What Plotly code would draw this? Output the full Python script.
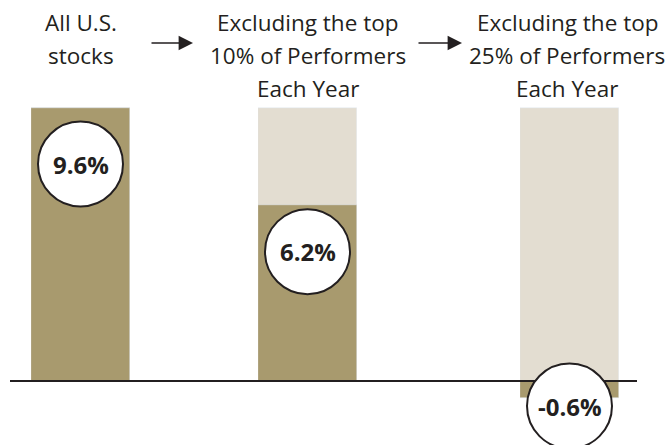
import plotly.graph_objects as go

# ---------------- data ----------------
header_lines = [
    ["All U.S.", "stocks"],
    ["Excluding the top", "10% of Performers", "Each Year"],
    ["Excluding the top", "25% of Performers", "Each Year"],
]
categories = [" ".join(h) for h in header_lines]
returns = [9.6, 6.2, -0.6]
reference = [9.6, 9.6, 9.6]          # all-stocks return shown as ghost bar
labels = ["9.6%", "6.2%", "-0.6%"]

# ---------------- style / layout ----------------
W, H = 670, 445
DARK = "#a89a6e"
LIGHT = "#e3ddd1"
INK = "#231f20"
FONT = "Open Sans"
bar_domains = [(31, 130), (258, 357), (520, 619)]   # px
zero_px, top_px = 381, 108                          # pixel of 0 and of 9.6
ppu = (zero_px - top_px) / reference[0]
y_range = [-(H - zero_px) / ppu, zero_px / ppu]
circle_shift = [-56, -47, -8]                       # px from bar end
circle_r = 42.5
header_y = [23, 56, 89]                             # px, line centres
header_fs = 22.5
header_cx = [80.5, 307.5, 567]                      # px, header centres

fig = go.Figure()
shapes = []
annotations = []
axes = {}
for i, cat in enumerate(categories):
    ax = "x" if i == 0 else f"x{i+1}"
    axkey = "xaxis" if i == 0 else f"xaxis{i+1}"
    fig.add_trace(go.Bar(x=[cat], y=[reference[i]], marker_color=LIGHT,
                         width=1, xaxis=ax, yaxis="y", showlegend=False,
                         hoverinfo="skip"))
    fig.add_trace(go.Bar(x=[cat], y=[returns[i]], marker_color=DARK,
                         width=1, xaxis=ax, yaxis="y", showlegend=False))
    d0, d1 = bar_domains[i]
    axes[axkey] = dict(domain=[d0 / W, d1 / W], type="category",
                       range=[-0.5, 0.5], visible=False, anchor="y",
                       fixedrange=True)
    for j, line in enumerate(header_lines[i]):
        annotations.append(dict(text=line, xref="paper", yref="paper",
                                x=header_cx[i] / W, y=1 - header_y[j] / H,
                                xanchor="center", yanchor="middle",
                                showarrow=False,
                                font=dict(family=FONT, size=header_fs, color=INK)))

# baseline
shapes.append(dict(type="line", xref="paper", yref="y", x0=10 / W, x1=637 / W,
                   y0=0, y1=0, line=dict(color=INK, width=2), layer="above"))
# circles + labels
for i, cat in enumerate(categories):
    ax = "x" if i == 0 else f"x{i+1}"
    s = circle_shift[i]
    shapes.append(dict(type="circle", xref=ax, yref="y",
                       xsizemode="pixel", ysizemode="pixel",
                       xanchor=0, yanchor=returns[i],
                       x0=-circle_r, x1=circle_r,
                       y0=s - circle_r, y1=s + circle_r,
                       fillcolor="white", line=dict(color=INK, width=2),
                       layer="above"))
    annotations.append(dict(text=f"<b>{labels[i]}</b>", xref=ax, yref="y",
                            x=0, y=returns[i], yshift=s, showarrow=False,
                            xanchor="center", yanchor="middle",
                            font=dict(family=FONT, size=24, color=INK)))

# arrows between headers
for (x_tail, x_head) in [(150, 193), (417, 462)]:
    annotations.append(dict(xref="paper", yref="paper", x=x_head / W, y=1 - 43 / H,
                            ax=x_tail - x_head, ay=0, text="", showarrow=True,
                            arrowhead=2, arrowsize=1.8, arrowwidth=1.6,
                            arrowcolor=INK, standoff=0))

fig.update_layout(
    width=W, height=H, margin=dict(l=0, r=0, t=0, b=0),
    paper_bgcolor="white", plot_bgcolor="white",
    barmode="overlay", bargap=0,
    yaxis=dict(range=y_range, visible=False, domain=[0, 1], fixedrange=True),
    shapes=shapes, annotations=annotations, **axes,
)
fig.write_html("out.html", config={"displayModeBar": False},
               post_script="document.body.style.margin='0';document.body.style.overflow='hidden';")
